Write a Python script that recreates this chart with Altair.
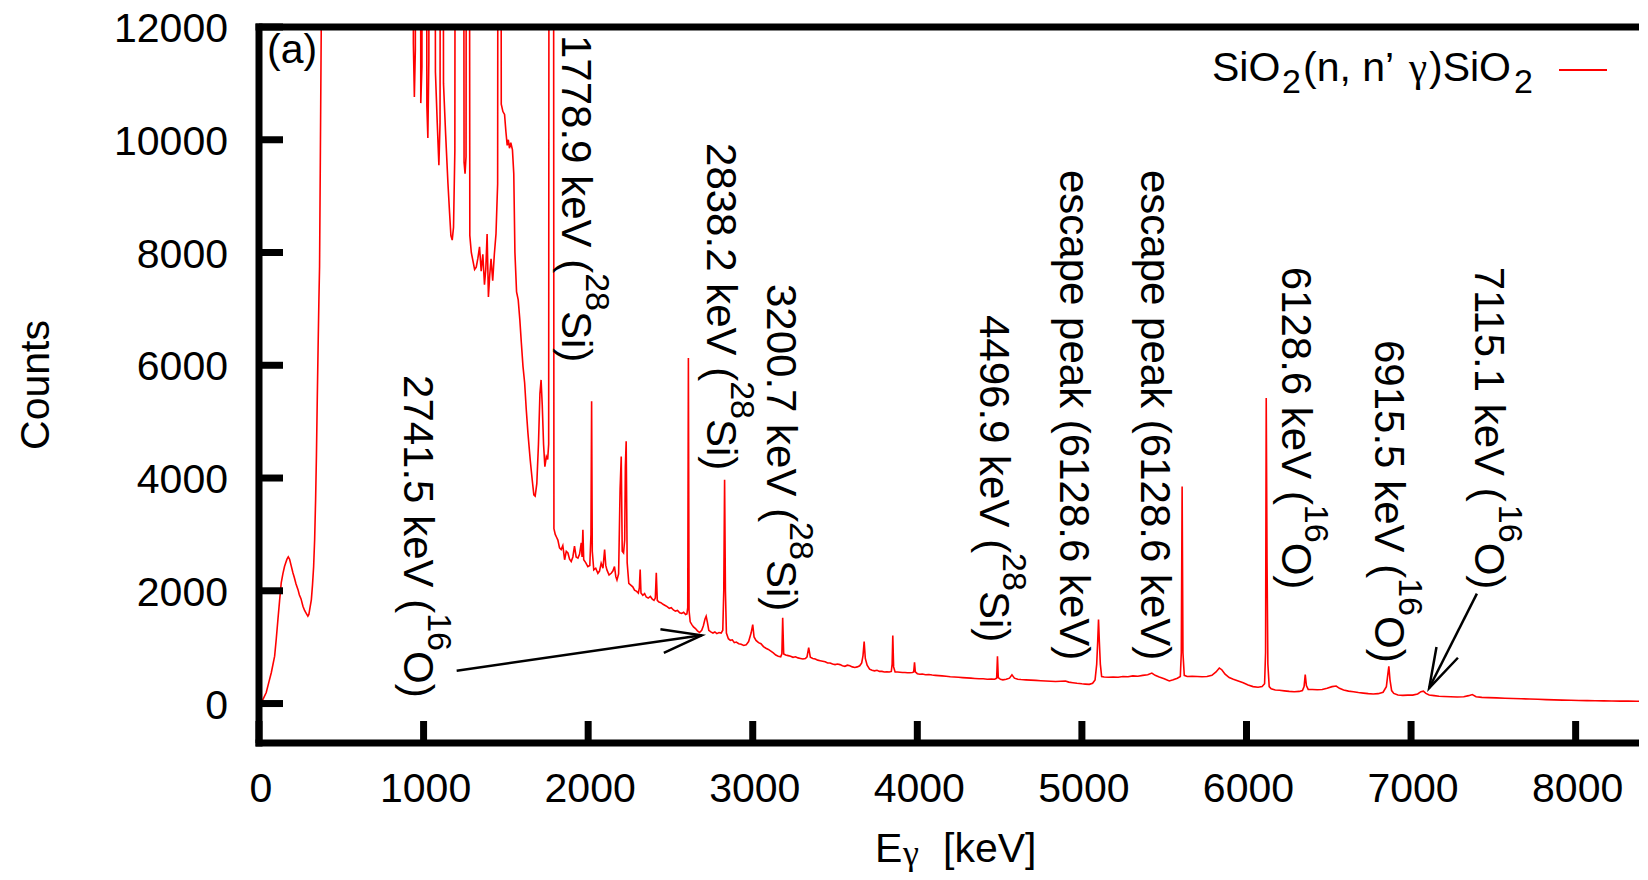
import math
import altair as alt
import pandas as pd

# ---------------- data (energy keV, counts) ----------------
seg_rise = [(8, 10), (14, 18), (30, 110), (44, 195), (60, 380), (75, 550), (95, 840), (105, 1150),
            (115, 1490), (125, 1820), (135, 2140), (145, 2300), (155, 2430), (163, 2500), (170, 2560),
            (178, 2600), (186, 2560), (195, 2450), (206, 2320), (215, 2230), (225, 2120), (237, 2020),
            (245, 1930), (255, 1860), (267, 1725), (277, 1650), (287, 1600), (297, 1550), (303, 1580),
            (310, 1700), (318, 1840), (325, 2100), (332, 2430), (338, 2900), (344, 3620), (349, 4400),
            (354, 5390), (359, 6300), (364, 7160), (368, 7750), (373, 9800), (378, 11900), (384, 30000)]

seg_saturated = [(925, 30000), (933, 30000), (938, 11700), (944, 10760), (950, 11600), (956, 30000),
                 (976, 30000), (983, 10650), (990, 11300), (996, 30000), (1013, 30000), (1020, 10600),
                 (1026, 10030), (1032, 11400), (1038, 30000), (1062, 30000), (1072, 11200), (1083, 10300),
                 (1093, 9550), (1100, 10300), (1107, 30000), (1114, 30000), (1121, 11000), (1134, 10100),
                 (1148, 9230), (1158, 8700), (1166, 8300), (1174, 8220), (1182, 8450), (1190, 9800),
                 (1197, 30000), (1238, 30000), (1246, 9600), (1252, 9400), (1258, 9700), (1264, 30000),
                 (1274, 30000), (1281, 8300), (1290, 8000), (1300, 7850), (1310, 7700), (1320, 7740),
                 (1330, 7900), (1340, 8100), (1350, 7670), (1360, 7970), (1370, 7430), (1378, 7700),
                 (1386, 8330), (1394, 7210), (1402, 7600), (1410, 7890), (1420, 7500), (1430, 7970),
                 (1440, 8330), (1450, 9220), (1456, 30000), (1466, 30000), (1472, 10630), (1482, 10500),
                 (1492, 10450), (1500, 10150), (1508, 9900), (1515, 10000), (1522, 9850), (1530, 9950),
                 (1540, 9820), (1548, 9400), (1555, 8000), (1565, 7300), (1575, 7160), (1585, 6800),
                 (1594, 6400), (1604, 5980), (1614, 5690), (1624, 5210), (1634, 4800), (1648, 4320),
                 (1660, 3970), (1670, 3700), (1678, 3680), (1688, 3900), (1698, 4600), (1707, 5500),
                 (1714, 5740), (1721, 5300), (1729, 4600), (1737, 4200), (1746, 4380), (1754, 4330),
                 (1760, 4600), (1765, 30000), (1787, 30000), (1792, 3100)]

seg_mid = [(1800, 3000), (1808, 2950), (1816, 2900), (1826, 2760), (1836, 2730), (1846, 2800), (1857, 2550),
           (1867, 2700), (1877, 2670), (1887, 2560), (1897, 2520), (1907, 2600), (1917, 2790), (1927, 2600),
           (1938, 2580), (1948, 2650), (1958, 2850), (1963, 2600), (1968, 3080), (1973, 2550), (1985, 2500),
           (1998, 2430), (2010, 2450), (2017, 3000), (2021, 5360), (2025, 2700), (2034, 2370), (2046, 2400),
           (2059, 2310), (2069, 2350), (2079, 2490), (2090, 2400), (2100, 2730), (2107, 2450), (2114, 2370),
           (2127, 2280), (2140, 2310), (2150, 2350), (2160, 2430), (2168, 2250), (2175, 2190), (2185, 2300),
           (2194, 3800), (2201, 4380), (2207, 2700), (2215, 2670), (2222, 2900), (2226, 4200), (2231, 4650),
           (2237, 2500), (2247, 2130), (2259, 2100), (2271, 2070), (2282, 2010), (2295, 1990), (2305, 1960),
           (2311, 2050), (2316, 2375), (2321, 1960), (2332, 1920), (2343, 1950), (2353, 1890), (2365, 1870),
           (2378, 1900), (2390, 1850), (2400, 1830), (2408, 1870), (2414, 2320), (2420, 1830), (2430, 1800),
           (2442, 1790), (2455, 1760), (2468, 1740), (2480, 1720), (2493, 1690), (2505, 1700), (2518, 1660),
           (2530, 1640), (2543, 1650), (2556, 1610), (2568, 1600), (2580, 1620), (2592, 1580), (2600, 1590),
           (2605, 1700), (2609, 6130), (2613, 1650), (2620, 1450)]

seg_tail1 = [(2630, 1400), (2640, 1360), (2652, 1330), (2664, 1290), (2677, 1260), (2690, 1300), (2700, 1380),
             (2710, 1500), (2717, 1550), (2724, 1450), (2733, 1300), (2745, 1270), (2758, 1250), (2770, 1270),
             (2782, 1240), (2795, 1260), (2808, 1250), (2818, 1300), (2824, 2000), (2829, 3970), (2834, 2000),
             (2840, 1250), (2852, 1150), (2864, 1120), (2876, 1130), (2888, 1080), (2900, 1090), (2915, 1060),
             (2930, 1050), (2945, 1030), (2960, 1040), (2975, 1100), (2990, 1250), (3000, 1400), (3008, 1180),
             (3020, 1120), (3035, 1080), (3050, 1060), (3065, 1010), (3080, 980), (3095, 960), (3110, 930),
             (3125, 900), (3140, 860), (3155, 840), (3170, 830), (3177, 880), (3182, 1520), (3188, 880),
             (3200, 860), (3215, 850), (3230, 840), (3245, 820), (3260, 830), (3275, 810), (3290, 800),
             (3305, 790), (3320, 800), (3330, 830), (3340, 990), (3350, 820), (3365, 800), (3380, 790),
             (3395, 770), (3410, 760), (3425, 750), (3440, 740), (3455, 720), (3470, 720), (3485, 700),
             (3500, 690), (3515, 700), (3530, 690), (3545, 670), (3560, 660), (3575, 680), (3590, 670),
             (3605, 650), (3620, 640), (3635, 650), (3650, 670), (3662, 720), (3670, 850), (3677, 1100),
             (3684, 800), (3695, 680), (3710, 610), (3725, 590), (3740, 580), (3755, 590), (3770, 570),
             (3785, 570), (3800, 560), (3815, 565), (3830, 560), (3842, 570), (3847, 700), (3851, 1205),
             (3856, 650), (3865, 560), (3880, 560), (3895, 555), (3910, 550), (3925, 550), (3940, 545),
             (3955, 545), (3970, 550), (3978, 560), (3983, 730), (3988, 560), (4000, 530)]

seg_tail2 = [(4015, 520), (4030, 525), (4050, 510), (4070, 515), (4090, 505), (4110, 500), (4130, 495),
             (4150, 490), (4175, 485), (4200, 475), (4225, 470), (4250, 465), (4275, 460), (4300, 455),
             (4325, 450), (4350, 445), (4375, 440), (4400, 440), (4425, 430), (4450, 435), (4470, 430),
             (4482, 450), (4487, 840), (4492, 460), (4505, 430), (4520, 420), (4540, 430), (4560, 450),
             (4575, 510), (4590, 450), (4610, 430), (4630, 425), (4660, 420), (4690, 415), (4720, 410),
             (4750, 405), (4780, 400), (4810, 395), (4840, 390), (4870, 395), (4900, 400), (4920, 380),
             (4945, 370), (4970, 360), (5000, 350), (5020, 345), (5045, 340), (5065, 360), (5080, 420),
             (5090, 700), (5096, 1100), (5101, 1490), (5106, 1100), (5112, 700), (5120, 480)]

seg_tail3 = [(5135, 470), (5160, 465), (5190, 470), (5220, 465), (5250, 480), (5280, 475), (5310, 490),
             (5340, 485), (5370, 500), (5400, 510), (5425, 540), (5445, 500), (5470, 470), (5500, 440),
             (5531, 400), (5555, 420), (5580, 450), (5598, 480), (5604, 900), (5609, 3850), (5614, 900),
             (5622, 500), (5640, 480), (5670, 485), (5700, 480), (5730, 475), (5760, 480), (5790, 500),
             (5815, 560), (5835, 630), (5850, 600), (5870, 520), (5895, 460), (5920, 430), (5950, 400),
             (5980, 370), (6010, 330), (6040, 300), (6070, 290), (6095, 300), (6110, 350), (6116, 900),
             (6120, 5420), (6125, 2500), (6130, 700), (6138, 300), (6150, 260), (6175, 240), (6200, 235),
             (6230, 225), (6260, 215), (6290, 210), (6320, 215), (6340, 230), (6350, 300), (6357, 515),
             (6364, 320), (6375, 250), (6400, 250), (6430, 245), (6460, 250), (6490, 270), (6520, 300),
             (6545, 310), (6565, 270), (6590, 240), (6620, 220), (6650, 210), (6680, 195), (6710, 185),
             (6740, 175), (6770, 170), (6800, 175), (6830, 200), (6850, 300), (6858, 500), (6865, 660),
             (6872, 420), (6882, 230), (6895, 180), (6920, 150), (6950, 145), (6980, 150), (7010, 150),
             (7040, 170), (7060, 210), (7075, 220), (7090, 180), (7110, 150), (7140, 140), (7170, 130),
             (7200, 125), (7240, 120), (7280, 115), (7320, 120), (7350, 140), (7372, 160), (7395, 120),
             (7430, 110), (7470, 105), (7520, 100), (7570, 95), (7620, 90), (7670, 85), (7720, 80),
             (7770, 75), (7820, 70), (7870, 65), (7920, 60), (7970, 58), (8020, 55), (8070, 52),
             (8120, 50), (8170, 47), (8220, 45), (8270, 43), (8320, 42), (8370, 40), (8420, 40)]

tick_x = [0, 1000, 2000, 3000, 4000, 5000, 6000, 7000, 8000]
tick_y = [0, 2000, 4000, 6000, 8000, 10000, 12000]

# annotation: (text before superscript, superscript, text after)
ann_parts = [("1778.9 keV (", "28", "Si)"), ("2838.2 keV (", "28", "Si)"), ("3200.7 keV (", "28", "Si)"),
             ("2741.5 keV (", "16", "O)"), ("4496.9 keV (", "28", "Si)"),
             ("escape peak (6128.6 keV)", "", ""), ("escape peak (6128.6 keV)", "", ""),
             ("6128.6 keV (", "16", "O)"), ("6915.5 keV (", "16", "O)"), ("7115.1 keV (", "16", "O)")]
ann_energy = [1923, 2801, 3163, 963, 4457, 4943, 5441, 6292, 6860, 7468]
ann_counts = [11858, 9942, 7442, 5827, 6892, 9464, 9464, 7748, 6448, 7748]

arrow_from_e = [1201, 7400]
arrow_from_c = [582, 1950]
arrow_to_e = [2690, 7110]
arrow_to_c = [1210, 275]

# ---------------- layout ----------------
W, H = 1380, 716
X_MAX = 8385
Y_MIN, Y_MAX = -700, 12000
FONT = "Liberation Sans"
SERIF = "Liberation Serif"
KX = W / X_MAX
KY = H / (Y_MAX - Y_MIN)
FS_ANN, FS_SUP = 42, 34
FS_TICK = 41

EM = {".": 0.278, " ": 0.278, "k": 0.5, "e": 0.556, "V": 0.667, "(": 0.333, ")": 0.333,
      "S": 0.667, "i": 0.222, "O": 0.778}


def text_px(s, size):
    return sum(EM.get(ch, 0.556) for ch in s) * size


xscale = alt.Scale(domain=[0, X_MAX], nice=False, zero=False)
yscale = alt.Scale(domain=[Y_MIN, Y_MAX], nice=False, zero=False)


def X(field):
    return alt.X(field, scale=xscale, axis=None)


def Y(field):
    return alt.Y(field, scale=yscale, axis=None)


pts = seg_rise + seg_saturated + seg_mid + seg_tail1 + seg_tail2 + seg_tail3
spec = pd.DataFrame({"E": [p[0] for p in pts], "C": [p[1] for p in pts]})

line = alt.Chart(spec).mark_line(color="#ff0000", strokeWidth=1.6, clip=True).encode(x=X("E:Q"), y=Y("C:Q"))

one = pd.DataFrame({"k": [0]})


def txt(s, x, y, size, font=FONT, angle=0, align="left"):
    return alt.Chart(one).mark_text(text=s, align=align, baseline="alphabetic", fontSize=size, angle=angle,
                                    font=font, color="black").encode(x=alt.value(x), y=alt.value(y))


# tick marks (inward, gnuplot style) and tick labels
ytick_df = pd.DataFrame({"C": tick_y, "lab": [str(v) for v in tick_y]})
xtick_df = pd.DataFrame({"E": tick_x, "lab": [str(v) for v in tick_x]})
ytick_layer = alt.Chart(ytick_df).mark_rule(color="black", strokeWidth=7).encode(
    y=Y("C:Q"), x=alt.value(0), x2=alt.value(24))
xtick_layer = alt.Chart(xtick_df).mark_rule(color="black", strokeWidth=7).encode(
    x=X("E:Q"), y=alt.value(H), y2=alt.value(H - 22))
ylab_layer = alt.Chart(ytick_df).mark_text(align="right", baseline="middle", fontSize=FS_TICK, font=FONT,
                                           color="black", dy=3).encode(y=Y("C:Q"), x=alt.value(-31), text="lab:N")
xlab_layer = alt.Chart(xtick_df).mark_text(align="center", baseline="top", fontSize=FS_TICK, font=FONT,
                                           color="black", dx=2).encode(x=X("E:Q"), y=alt.value(H + 27), text="lab:N")

border_top = alt.Chart(one).mark_rule(color="black", strokeWidth=7, strokeCap="square").encode(
    x=alt.value(0), x2=alt.value(W + 4), y=alt.value(0))
border_left = alt.Chart(one).mark_rule(color="black", strokeWidth=7, strokeCap="square").encode(
    x=alt.value(0), y=alt.value(0), y2=alt.value(H))
border_bottom = alt.Chart(one).mark_rule(color="black", strokeWidth=7, strokeCap="square").encode(
    x=alt.value(0), x2=alt.value(W + 4), y=alt.value(H))

# rotated annotations: main text, raised superscript, trailing text
main_rows, sup_rows, tail_rows = [], [], []
for (pre, sup, post), e, c in zip(ann_parts, ann_energy, ann_counts):
    main_rows.append({"E": e, "C": c, "t": pre})
    if sup:
        w1 = text_px(pre, FS_ANN)
        w2 = text_px(sup, FS_SUP)
        sup_rows.append({"E": e + 20.6 / KX, "C": c - w1 / KY, "t": sup})
        tail_rows.append({"E": e, "C": c - (w1 + w2) / KY, "t": post})


def ann_layer(rows, size):
    return alt.Chart(pd.DataFrame(rows)).mark_text(angle=90, align="left", baseline="middle", fontSize=size,
                                                   font=FONT, color="black").encode(
        x=X("E:Q"), y=Y("C:Q"), text="t:N")


ann_main = ann_layer(main_rows, FS_ANN)
ann_sup = ann_layer(sup_rows, FS_SUP)
ann_tail = ann_layer(tail_rows, FS_ANN)

angles = []
for e1, c1, e2, c2 in zip(arrow_from_e, arrow_from_c, arrow_to_e, arrow_to_c):
    dx = (e2 - e1) * KX
    dy = -(c2 - c1) * KY
    angles.append(math.degrees(math.atan2(dy, dx)) % 360)
arr = pd.DataFrame({"E": arrow_from_e, "C": arrow_from_c, "E2": arrow_to_e, "C2": arrow_to_c, "ang": angles})
shaft_layer = alt.Chart(arr).mark_rule(color="black", strokeWidth=2.5).encode(
    x=X("E:Q"), y=Y("C:Q"), x2="E2:Q", y2="C2:Q")
head_layer = alt.Chart(arr).mark_point(shape="M -1 -0.3 L 0 0 L -1 0.3", filled=False, strokeWidth=2.5,
                                        color="black", opacity=1, size=6400).encode(
    x=X("E2:Q"), y=Y("C2:Q"), angle=alt.Angle("ang:Q", scale=None))

# legend in gnuplot style: text, then sample line
legend_layers = [
    txt("SiO", 953, 54, 41),
    txt("2", 1023, 66, 34),
    txt("(n, n’ ", 1044, 54, 41),
    txt("γ", 1150, 54, 41, SERIF),
    txt(")SiO", 1170, 54, 41),
    txt("2", 1255, 66, 34),
]
legend_line = alt.Chart(one).mark_rule(color="#ff0000", strokeWidth=2).encode(
    x=alt.value(1300), x2=alt.value(1348), y=alt.value(43))

panel_label = txt("(a)", 8, 36, 41)

title_layers = [
    txt("E", 616, 835, 41),
    txt("γ", 644, 838, 36, SERIF),
    txt("[keV]", 684, 835, 41),
    txt("Counts", -210, 358, 41, angle=270, align="center"),
]

chart = alt.layer(
    line, ytick_layer, xtick_layer, ylab_layer, xlab_layer, border_top, border_left, border_bottom,
    ann_main, ann_sup, ann_tail, shaft_layer, head_layer, *legend_layers, legend_line, panel_label,
    *title_layers
).properties(
    width=W, height=H,
    autosize=alt.AutoSizeParams(type="none"),
    padding={"left": 251, "top": 19, "right": 0, "bottom": 129},
    background="white",
).configure_view(stroke=None)

chart.save("out.html", embed_options={"renderer": "svg", "actions": False})
